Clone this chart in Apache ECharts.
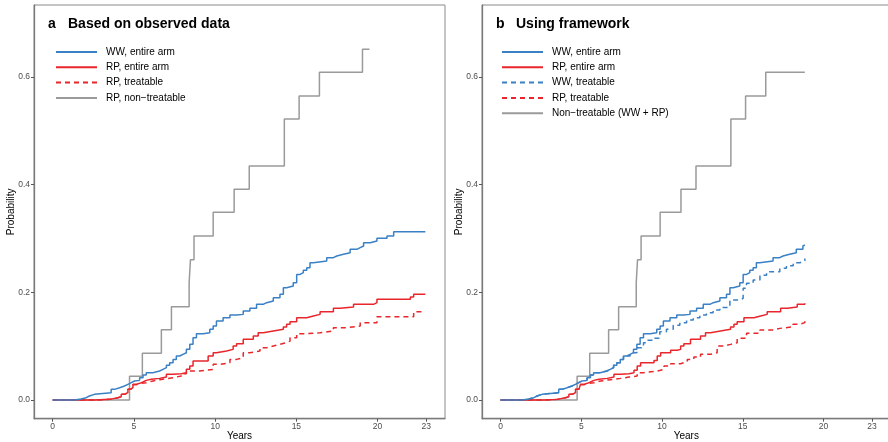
<!DOCTYPE html>
<html>
<head>
<meta charset="utf-8">
<script src="https://cdn.jsdelivr.net/npm/echarts@6/dist/echarts.min.js"></script>
<style>
html, body { margin: 0; padding: 0; background: #fff; }
#main { width: 888px; height: 442px; }
</style>
</head>
<body>
<div id="main"></div>
<script>
// x ticks (years) and y ticks (probability)
var yearTicks = [0, 5, 10, 15, 20, 23];
var probTicks = [0, 0.2, 0.4, 0.6];

// panel a: based on observed data, [years, cumulative probability]
var wwEntireA = [[0,0],[1.34,0],[1.44,0.0019],[1.75,0.0043],[2.06,0.0074],[2.26,0.0105],[2.57,0.0136],[3.60,0.0198],[3.81,0.0229],[4.12,0.026],[4.42,0.0291],[4.63,0.0322],[4.84,0.0353],[5.04,0.0365],[5.35,0.0415],[5.56,0.0464],[5.76,0.0508],[6.17,0.0539],[6.58,0.057],[6.79,0.0601],[7.00,0.0644],[7.20,0.0693],[7.41,0.0755],[7.61,0.0817],[7.82,0.0848],[8.02,0.0879],[8.23,0.0941],[8.44,0.1034],[8.64,0.1158],[8.85,0.1232],[9.26,0.1251],[9.67,0.1313],[9.88,0.1375],[10.08,0.1467],[10.49,0.1529],[10.91,0.1579],[11.32,0.1591],[11.73,0.1653],[12.14,0.1703],[12.55,0.1777],[12.96,0.1808],[13.17,0.1839],[13.58,0.1901],[13.99,0.1963],[14.20,0.2087],[14.40,0.2118],[14.81,0.218],[15.02,0.2334],[15.23,0.2365],[15.43,0.2409],[15.64,0.2458],[15.84,0.2551],[16.05,0.2582],[16.87,0.2644],[17.28,0.2675],[17.49,0.2706],[17.90,0.2737],[18.31,0.2799],[18.72,0.283],[18.93,0.2861],[19.14,0.2923],[19.55,0.2954],[19.96,0.3003],[20.58,0.3046],[20.99,0.3127],[22.94,0.3127]];
var rpEntireA = [[0,0],[2.57,0.0012],[3.50,0.0043],[4.01,0.0062],[4.22,0.0105],[4.42,0.0136],[4.63,0.0198],[4.79,0.0229],[4.94,0.0291],[5.14,0.031],[5.35,0.0334],[5.56,0.0365],[5.76,0.0384],[6.07,0.0402],[6.58,0.0427],[7.00,0.0477],[7.41,0.0489],[7.92,0.0508],[8.23,0.057],[8.44,0.0632],[8.64,0.0724],[9.57,0.0817],[9.88,0.0879],[10.08,0.091],[10.70,0.0941],[11.11,0.1003],[11.32,0.1046],[11.73,0.1127],[12.35,0.1189],[12.65,0.1251],[12.96,0.1282],[13.58,0.1313],[14.20,0.1356],[14.40,0.1406],[14.61,0.1455],[15.02,0.1529],[15.64,0.156],[16.05,0.1591],[16.46,0.1641],[17.28,0.1703],[17.70,0.1728],[18.52,0.1777],[19.75,0.1808],[19.96,0.187],[22.02,0.1913],[22.22,0.1963],[22.94,0.1963]];
var rpTreatA = [[0,0],[2.57,0.0012],[3.50,0.0043],[4.01,0.0062],[4.22,0.0105],[4.42,0.0136],[4.63,0.0198],[4.79,0.0229],[4.94,0.0285],[5.14,0.0304],[5.35,0.0322],[5.76,0.0353],[6.17,0.0378],[6.58,0.0415],[7.41,0.0446],[7.92,0.0489],[8.23,0.0539],[9.05,0.057],[9.88,0.0663],[10.29,0.0693],[10.91,0.0755],[11.32,0.0786],[11.73,0.0879],[12.14,0.091],[12.76,0.0972],[13.17,0.1003],[13.58,0.1034],[13.99,0.1065],[14.40,0.1096],[14.61,0.1158],[15.02,0.1232],[15.64,0.1251],[16.46,0.1282],[17.28,0.1344],[18.11,0.1375],[18.93,0.1437],[19.96,0.1548],[22.22,0.1641],[22.94,0.1641]];
var rpNonTreatA = [[0,0],[4.73,0.044],[5.52,0.0867],[6.69,0.1306],[7.31,0.1734],[8.40,0.218],[8.48,0.2606],[8.70,0.3047],[9.88,0.3487],[11.17,0.3914],[12.10,0.4347],[14.26,0.522],[15.17,0.5647],[16.42,0.6087],[19.07,0.6515],[19.50,0.6515]];

// panel b: using framework
var wwEntireB = [[0,0],[1.34,0],[1.44,0.0019],[1.75,0.0043],[2.06,0.0074],[2.26,0.0105],[2.57,0.0136],[3.60,0.0198],[3.81,0.0229],[4.12,0.026],[4.42,0.0291],[4.63,0.0322],[4.84,0.0353],[5.04,0.0365],[5.35,0.0415],[5.56,0.0464],[5.76,0.0508],[6.17,0.0539],[6.58,0.057],[6.79,0.0601],[7.00,0.0644],[7.20,0.0693],[7.41,0.0755],[7.61,0.0817],[7.82,0.0848],[8.02,0.0879],[8.23,0.0941],[8.44,0.1034],[8.64,0.1158],[8.85,0.1232],[9.26,0.1251],[9.67,0.1313],[9.88,0.1375],[10.08,0.1467],[10.49,0.1529],[10.91,0.1579],[11.32,0.1591],[11.73,0.1653],[12.14,0.1703],[12.55,0.1777],[12.96,0.1808],[13.17,0.1839],[13.58,0.1901],[13.99,0.1963],[14.20,0.2087],[14.40,0.2118],[14.81,0.218],[15.02,0.2334],[15.23,0.2365],[15.43,0.2409],[15.64,0.2458],[15.84,0.2551],[16.05,0.2582],[16.87,0.2644],[17.28,0.2675],[17.49,0.2706],[17.90,0.2737],[18.31,0.2799],[18.72,0.2861],[18.84,0.288]];
var rpEntireB = [[0,0],[2.68,0.0012],[3.51,0.0043],[4.02,0.0062],[4.23,0.0105],[4.44,0.0136],[4.64,0.0198],[4.85,0.0229],[4.95,0.0291],[5.16,0.031],[5.37,0.0334],[5.57,0.0365],[5.78,0.0384],[6.09,0.0402],[6.60,0.0427],[7.02,0.0477],[7.43,0.0489],[7.95,0.0508],[8.26,0.0551],[8.46,0.0632],[8.67,0.0693],[9.50,0.0736],[9.70,0.0817],[9.91,0.0879],[10.53,0.0923],[10.94,0.0941],[11.15,0.1003],[11.35,0.1046],[11.76,0.1127],[12.38,0.1189],[12.69,0.1251],[13.00,0.1282],[13.62,0.1313],[14.24,0.1356],[14.45,0.1406],[14.65,0.1455],[15.07,0.1529],[15.69,0.156],[16.10,0.1591],[16.51,0.1641],[17.34,0.1703],[17.75,0.1728],[18.37,0.1777],[18.84,0.1796]];
var wwTreatB = [[0,0],[1.34,0],[1.44,0.0019],[1.75,0.0043],[2.06,0.0074],[2.26,0.0105],[2.57,0.0136],[3.60,0.0198],[3.81,0.0229],[4.12,0.026],[4.42,0.0291],[4.63,0.0322],[4.84,0.0353],[5.04,0.0365],[5.35,0.0415],[5.56,0.0464],[5.76,0.0508],[6.17,0.0539],[6.58,0.057],[6.79,0.0601],[7.00,0.0644],[7.20,0.0693],[7.41,0.0755],[7.61,0.0817],[8.02,0.0879],[8.44,0.0972],[8.85,0.1065],[9.04,0.1108],[9.46,0.1146],[9.86,0.127],[10.27,0.1313],[10.69,0.139],[11.10,0.1437],[11.52,0.1486],[11.93,0.1529],[12.34,0.158],[12.75,0.1622],[13.16,0.1672],[13.58,0.172],[14.20,0.1858],[14.82,0.189],[15.02,0.2075],[15.23,0.2168],[15.64,0.2229],[16.06,0.232],[16.47,0.2383],[17.29,0.2446],[17.70,0.2495],[18.12,0.255],[18.53,0.2587],[18.84,0.263]];
var rpTreatB = [[0,0],[2.68,0.0012],[3.51,0.0043],[4.02,0.0062],[4.23,0.0105],[4.44,0.0136],[4.64,0.0198],[4.85,0.0229],[4.95,0.0285],[5.16,0.0304],[5.37,0.0322],[5.78,0.0353],[6.19,0.0378],[6.81,0.0402],[7.43,0.0427],[7.95,0.0446],[8.46,0.0508],[8.87,0.0539],[9.70,0.057],[10.12,0.0632],[10.53,0.0675],[11.15,0.0712],[11.56,0.0755],[11.97,0.0799],[12.38,0.0848],[13.00,0.0879],[13.41,0.1003],[13.82,0.1034],[14.24,0.1065],[14.65,0.1146],[15.23,0.124],[16.06,0.13],[16.89,0.1331],[17.30,0.136],[18.10,0.1406],[18.53,0.1437],[18.84,0.1486]];
var nonTreatB = [[0,0],[4.74,0.044],[5.52,0.0867],[6.69,0.1306],[7.31,0.1734],[8.40,0.218],[8.48,0.2606],[8.70,0.3047],[9.88,0.3487],[11.17,0.3914],[12.10,0.4347],[14.26,0.522],[15.17,0.5647],[16.42,0.6087],[18.84,0.6087]];

var namesA = ['WW, entire arm', 'RP, entire arm', 'RP, treatable', 'RP, non\u2212treatable'];
var namesB = ['WW, entire arm', 'RP, entire arm', 'WW, treatable', 'RP, treatable', 'Non\u2212treatable (WW + RP)'];

var BLUE = '#3a80c4', RED = '#e8262b', GREY = '#9a9a9a';
var FONT = 'Liberation Sans';

function xAxisCfg(idx) {
    return {
        gridIndex: idx, type: 'value', min: -1.15, max: 24.15,
        name: 'Years', nameLocation: 'middle', nameGap: 13, nameMoveOverlap: false,
        nameTextStyle: {color: '#000', fontSize: 10, fontFamily: FONT},
        axisLine: {onZero: false, lineStyle: {color: '#7a7a7a', width: 1.3}},
        axisTick: {customValues: yearTicks, length: 3, lineStyle: {color: '#555'}},
        axisLabel: {customValues: yearTicks, color: '#4d4d4d', fontSize: 8.5, fontFamily: FONT, margin: 3},
        splitLine: {show: false}
    };
}
function yAxisCfg(idx) {
    return {
        gridIndex: idx, type: 'value', min: -0.0347, max: 0.7338,
        name: 'Probability', nameLocation: 'middle', nameGap: 18, nameMoveOverlap: false,
        nameTextStyle: {color: '#000', fontSize: 10, fontFamily: FONT},
        axisLine: {onZero: false, lineStyle: {color: '#7a7a7a', width: 1.3}},
        axisTick: {customValues: probTicks, length: 3, lineStyle: {color: '#555'}},
        axisLabel: {customValues: probTicks, color: '#4d4d4d', fontSize: 8.5, fontFamily: FONT, margin: 4,
            formatter: function (v) { return v.toFixed(1); }},
        splitLine: {show: false}
    };
}
function stepLine(name, data, color, dashed, idx) {
    return {
        name: name, type: 'line', step: 'end', data: data,
        xAxisIndex: idx, yAxisIndex: idx, symbol: 'none', silent: true,
        lineStyle: {color: color, width: 1.5, type: dashed ? [5, 4] : 'solid'},
        itemStyle: {color: color}
    };
}
function legendCfg(names, left) {
    return {
        data: names, orient: 'vertical', left: left, top: 47, padding: 0,
        itemWidth: 41, itemHeight: 10, itemGap: 5.3,
        selectedMode: false,
        itemStyle: {opacity: 0},
        textStyle: {color: '#000', fontSize: 10, fontFamily: FONT, padding: [0, 0, 0, 4]}
    };
}
function titleCfg(letter, text, left) {
    return [
        {text: letter, left: left, top: 17, padding: 0,
         textStyle: {fontSize: 14, fontWeight: 'bold', color: '#000', fontFamily: FONT}},
        {text: text, left: left + 20, top: 17, padding: 0,
         textStyle: {fontSize: 14, fontWeight: 'bold', color: '#000', fontFamily: FONT}}
    ];
}

var chart = echarts.init(document.getElementById('main'));
chart.setOption({
    animation: false,
    backgroundColor: '#fff',
    title: titleCfg('a', 'Based on observed data', 48).concat(titleCfg('b', 'Using framework', 496)),
    legend: [legendCfg(namesA, 55), legendCfg(namesB, 501)],
    grid: [
        {left: 34, right: 443, top: 5, bottom: 23.3, show: true, borderColor: '#8a8a8a', borderWidth: 1, outerBoundsMode: 'none'},
        {left: 482, right: -2.6, top: 5, bottom: 23.3, show: true, borderColor: '#8a8a8a', borderWidth: 1, outerBoundsMode: 'none'}
    ],
    xAxis: [xAxisCfg(0), xAxisCfg(1)],
    yAxis: [yAxisCfg(0), yAxisCfg(1)],
    series: [
        stepLine(namesA[3], rpNonTreatA, GREY, false, 0),
        stepLine(namesA[2], rpTreatA, RED, true, 0),
        stepLine(namesA[1], rpEntireA, RED, false, 0),
        stepLine(namesA[0], wwEntireA, BLUE, false, 0),
        stepLine(namesB[4], nonTreatB, GREY, false, 1),
        stepLine(namesB[3], rpTreatB, RED, true, 1),
        stepLine(namesB[2], wwTreatB, BLUE, true, 1),
        stepLine(namesB[1], rpEntireB, RED, false, 1),
        stepLine(namesB[0], wwEntireB, BLUE, false, 1)
    ]
});
</script>
</body>
</html>
